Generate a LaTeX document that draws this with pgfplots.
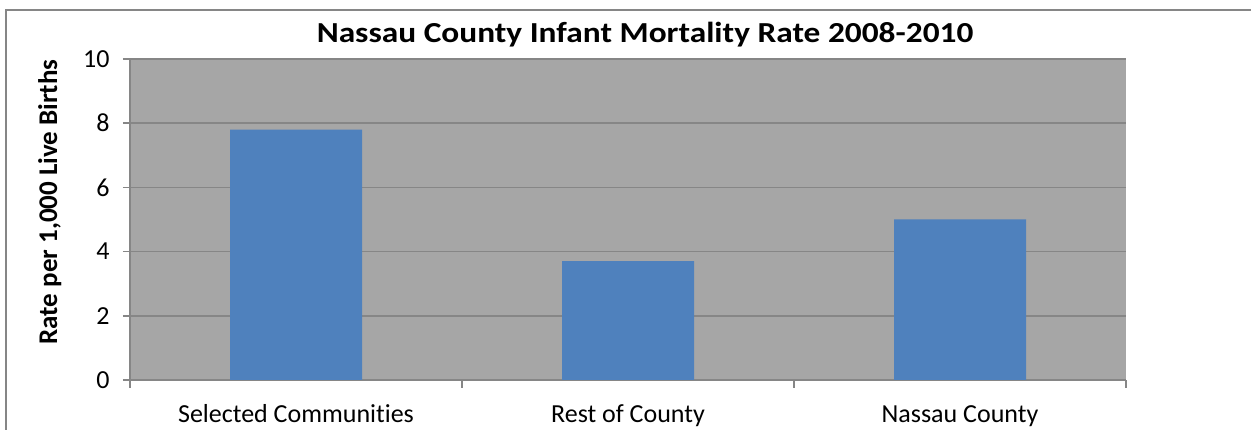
\documentclass[border=0pt]{standalone}
\usepackage{pgfplots}
\pgfplotsset{compat=1.18}
\usepackage{fontspec}
\setmainfont{Carlito}[Ligatures=CommonOff]
\newfontfamily\titlefont{Carlito}[Ligatures=CommonOff, FakeStretch=1.15]
\definecolor{bgc}{HTML}{A6A6A6}
\definecolor{barc}{HTML}{4F81BD}
\definecolor{grc}{HTML}{868686}
\begin{document}
\begin{tikzpicture}[x=1pt,y=1pt]
\useasboundingbox (0,0) rectangle (1251,430);
\draw[grc, line width=1.5pt] (6,-5) -- (6,420) -- (1256,420);
\begin{axis}[
  at={(130pt,50pt)}, anchor=south west,
  scale only axis, width=996pt, height=321pt,
  xmin=-0.5, xmax=2.5, ymin=0, ymax=10,
  xtick={0,1,2},
  xticklabels={Selected Communities, Rest of County, Nassau County},
  minor xtick={-0.5,0.5,1.5,2.5},
  ytick={0,2,4,6,8,10},
  axis x line*=bottom, axis y line*=left,
  axis line style={grc, line width=1.5pt, -},
  axis background/.style={fill=bgc},
  ymajorgrids, grid style={grc, line width=1.5pt},
  tick align=outside,
  major tick length=7pt, minor tick length=8pt,
  tick style={grc, line width=1.5pt},
  major x tick style={draw=none},
  ticklabel style={font=\fontsize{26}{31}\selectfont, text=black},
  yticklabel style={/pgf/number format/assume math mode=true, xshift=-10pt},
  xticklabel style={anchor=base, yshift=-36pt},
  ybar, bar width=132pt,
]
\addplot[fill=barc, draw=none] coordinates {(0,7.8) (1,3.7) (2,5.0)};
\end{axis}
\node[font=\titlefont\fontsize{29}{34}\bfseries\selectfont, anchor=base] at (645,387) {Nassau County Infant Mortality Rate 2008-2010};
\node[font=\fontsize{27}{32}\bfseries\selectfont, rotate=90, anchor=base] at (57,228) {Rate per 1,000 Live Births};
\end{tikzpicture}
\end{document}
